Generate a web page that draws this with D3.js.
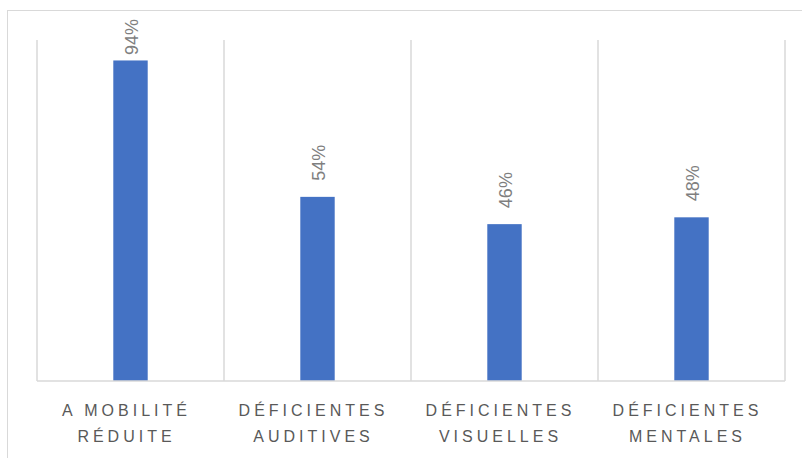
<!DOCTYPE html>
<html>
<head>
<meta charset="utf-8">
<script src="https://cdn.jsdelivr.net/npm/d3@7"></script>
<style>
  html, body { margin: 0; padding: 0; background: #fff; }
  svg { display: block; }
</style>
</head>
<body>
<svg id="chart" width="802" height="458"></svg>
<script>
const categories = [["A MOBILITÉ", "RÉDUITE"], ["DÉFICIENTES", "AUDITIVES"], ["DÉFICIENTES", "VISUELLES"], ["DÉFICIENTES", "MENTALES"]];
const values = [94, 54, 46, 48];
const valueLabels = ["94%", "54%", "46%", "48%"];

const svg = d3.select("#chart");
const W = 802, H = 458;
const m = { left: 37, right: 17, top: 40, bottom: 77 };
const plotR = W - m.right, plotB = H - m.bottom;

// outer frame
svg.append("rect").attr("x", 7.5).attr("y", 10.5).attr("width", 820).attr("height", 480)
  .attr("fill", "none").attr("stroke", "#d9d9d9").attr("stroke-width", 1);

const x = d3.scaleBand().domain(d3.range(categories.length)).range([m.left, plotR]).paddingInner(0.816).paddingOuter(0.408);
const xb = d3.scaleBand().domain(d3.range(categories.length)).range([m.left, plotR]).padding(0);
const y = d3.scaleLinear().domain([0, 100]).range([plotB, m.top]);

// vertical gridlines at category boundaries
const bounds = d3.range(categories.length + 1).map(i => i < categories.length ? xb(i) : plotR);
svg.append("g").selectAll("line").data(bounds).join("line")
  .attr("x1", d => d).attr("x2", d => d)
  .attr("y1", m.top).attr("y2", plotB)
  .attr("stroke", "#d9d9d9").attr("stroke-width", 1.5);

// bars
svg.append("g").selectAll("rect").data(values).join("rect")
  .attr("x", (d, i) => x(i)).attr("width", x.bandwidth())
  .attr("y", d => y(d)).attr("height", d => plotB - y(d))
  .attr("fill", "#4472c4");

// baseline
svg.append("line").attr("x1", m.left).attr("x2", plotR).attr("y1", plotB).attr("y2", plotB)
  .attr("stroke", "#d9d9d9").attr("stroke-width", 1.5);

// value labels rotated, kept inside the chart frame
const gap = 16, minTop = 19;
const vl = svg.append("g").selectAll("text").data(values).join("text")
  .attr("text-anchor", "start")
  .attr("dy", "0.35em")
  .attr("font-family", "Liberation Sans, Arial, sans-serif")
  .attr("font-size", 18)
  .attr("fill", "#7f7f7f")
  .text((d, i) => valueLabels[i]);
vl.attr("transform", function (d, i) {
  const len = this.getComputedTextLength();
  const py = Math.max(y(d) - gap, minTop + len);
  return `translate(${x(i) + x.bandwidth() / 2 + 1},${py}) rotate(-90)`;
});

// category labels
const cl = svg.append("g").selectAll("text").data(categories).join("text")
  .attr("text-anchor", "middle")
  .attr("font-family", "Liberation Sans, Arial, sans-serif")
  .attr("font-size", 16)
  .attr("letter-spacing", "4px")
  .attr("fill", "#595959");
cl.each(function (d, i) {
  const t = d3.select(this);
  d.forEach((line, j) => {
    t.append("tspan").attr("x", xb(i) + xb.bandwidth() / 2 - 4).attr("y", 416 + j * 26).text(line);
  });
});
</script>
</body>
</html>
